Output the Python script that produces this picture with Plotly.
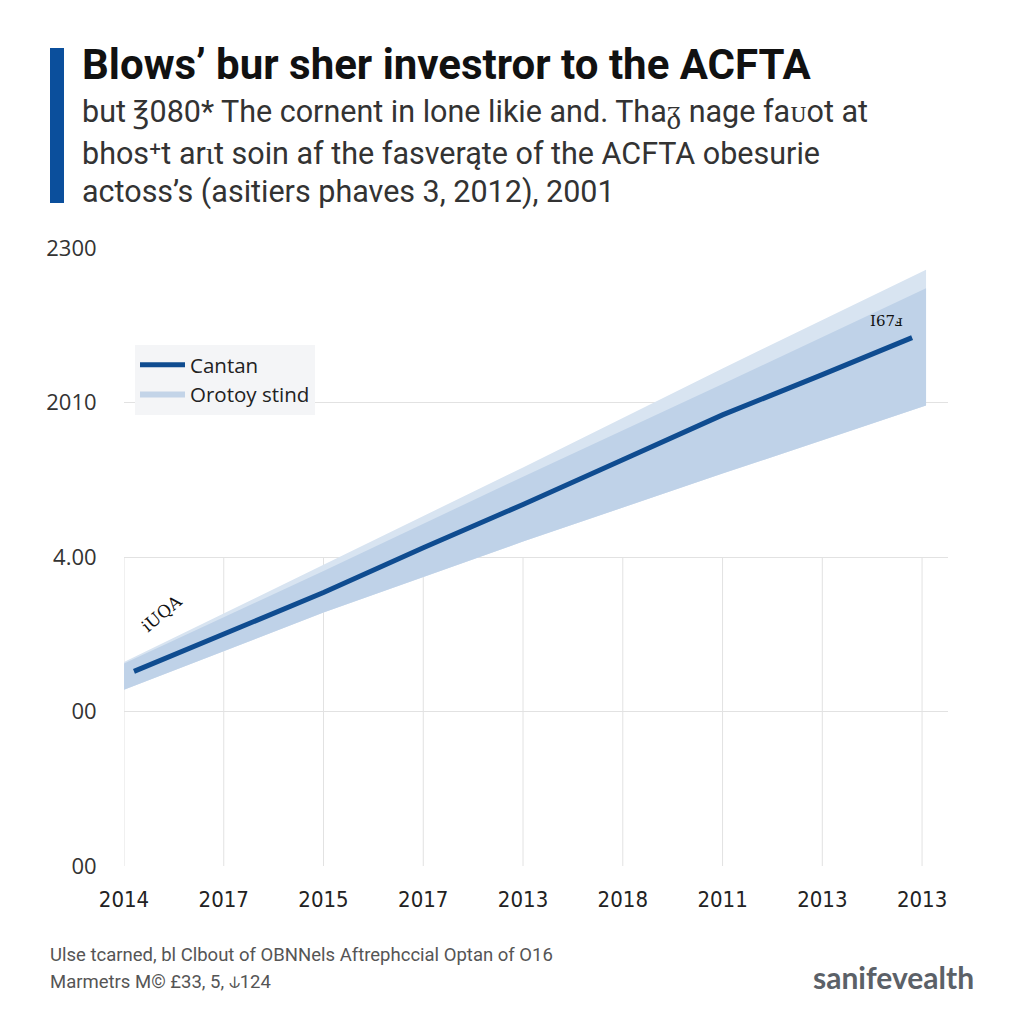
import plotly.graph_objects as go

# ---- data ----
x_ticktext = ["2014", "2017", "2015", "2017", "2013", "2018", "2011", "2013", "2013"]
x_tickvals = [0, 1, 2, 3, 4, 5, 6, 7, 8]
y_ticktext = ["00", "00", "4.00", "2010", "2300"]
y_tickvals = [0, 1, 2, 3, 4]

line_x = [0.1, 1, 2, 3, 4, 5, 6, 7, 7.9]
line_y = [1.26, 1.50, 1.77, 2.06, 2.34, 2.63, 2.92, 3.18, 3.42]

band_x = [0, 2, 4, 6, 8.04]
band_lower = [1.14, 1.64, 2.10, 2.54, 2.98]
band_outer_upper = [1.32, 1.95, 2.58, 3.22, 3.86]
band_inner_upper = [1.31, 1.91, 2.52, 3.12, 3.74]

series_names = ["Cantan", "Orotoy stind"]

# ---- layout geometry (page coordinates; the page body adds an 8px offset) ----
OFF = 8
W, H = 1024, 1024
PL, PR, PT, PB = 124, 948, 248, 866          # desired plot edges on screen
L = PL - OFF
T = PT - OFF
R = W - (PR - OFF)
B = H - (PB - OFF)
PW, PH = PR - PL, PB - PT


def px(xp):
    return (xp - PL) / PW


def py(yp):
    return (PB - yp) / PH


DARK = "#0f4c90"
INNER = "#bfd2e8"
OUTER = "#d8e4f1"

fig = go.Figure()

fig.add_trace(go.Scatter(
    x=band_x + band_x[::-1], y=band_lower + band_outer_upper[::-1],
    fill="toself", fillcolor=OUTER, line=dict(width=0), mode="lines",
    showlegend=False, hoverinfo="skip"))
fig.add_trace(go.Scatter(
    x=band_x + band_x[::-1], y=band_lower + band_inner_upper[::-1],
    fill="toself", fillcolor=INNER, line=dict(width=0), mode="lines",
    showlegend=False, hoverinfo="skip"))
fig.add_trace(go.Scatter(
    x=line_x, y=line_y, mode="lines", name=series_names[0],
    line=dict(color=DARK, width=5)))
fig.add_trace(go.Scatter(
    x=[None], y=[None], mode="lines", name=series_names[1],
    line=dict(color="#c3d4e8", width=6)))

shapes = []
for xv in x_tickvals:
    shapes.append(dict(type="line", xref="x", yref="y", x0=xv, x1=xv, y0=0, y1=2,
                       line=dict(color="#e2e2e2", width=1), layer="below"))
shapes.append(dict(type="rect", xref="paper", yref="paper",
                   x0=px(50), x1=px(64), y0=py(203), y1=py(48),
                   fillcolor="#0b4f9c", line=dict(width=0)))

annotations = [
    dict(text="<b>Blows’ bur sher investror to the ACFTA</b>", x=px(80), y=py(64),
         xref="paper", yref="paper", xanchor="left", yanchor="middle", showarrow=False,
         font=dict(family="Roboto", size=42, color="#111111")),
    dict(text="but ℥080* The cornent in lone likie and. Thaᵹ nage faᴜot at", x=px(80), y=py(112),
         xref="paper", yref="paper", xanchor="left", yanchor="middle", showarrow=False,
         font=dict(family="Roboto", size=30.5, color="#333333")),
    dict(text="bhos⁺t arɩt soin af the fasverąte of the ACFTA obesurie", x=px(80), y=py(153),
         xref="paper", yref="paper", xanchor="left", yanchor="middle", showarrow=False,
         font=dict(family="Roboto", size=30.5, color="#333333")),
    dict(text="actoss’s (asitiers phaves 3, 2012), 2001", x=px(80), y=py(192),
         xref="paper", yref="paper", xanchor="left", yanchor="middle", showarrow=False,
         font=dict(family="Roboto", size=30.5, color="#333333")),
    dict(text="Ulse tcarned, bl Clbout of OBNNels Aftrephccial Optan of O16", x=px(48), y=py(955),
         xref="paper", yref="paper", xanchor="left", yanchor="middle", showarrow=False,
         font=dict(family="Roboto", size=18.5, color="#555555")),
    dict(text="Marmetrs M© £33, 5, ⫝124", x=px(48), y=py(982),
         xref="paper", yref="paper", xanchor="left", yanchor="middle", showarrow=False,
         font=dict(family="Roboto", size=18.5, color="#555555")),
    dict(text="<b>sanifevealth</b>", x=px(976), y=py(977),
         xref="paper", yref="paper", xanchor="right", yanchor="middle", showarrow=False,
         font=dict(family="Lato", size=30, color="#5b6168")),
    dict(text="iUQA", x=0.38, y=1.64, xref="x", yref="y", showarrow=False, textangle=-40,
         font=dict(family="DejaVu Serif", size=17, color="#111111")),
    dict(text="I67ⅎ", x=7.64, y=3.53, xref="x", yref="y", showarrow=False,
         font=dict(family="DejaVu Serif", size=15, color="#111111")),
]

fig.update_layout(
    width=W, height=H,
    margin=dict(l=L, r=R, t=T, b=B),
    paper_bgcolor="white", plot_bgcolor="white",
    shapes=shapes, annotations=annotations,
    showlegend=True,
    legend=dict(x=px(135), y=py(345), xanchor="left", yanchor="top",
                bgcolor="#f4f5f7", borderwidth=0, itemwidth=45,
                font=dict(family="Open Sans", size=20.5, color="#222222"),
                tracegroupgap=2),
    xaxis=dict(range=[0, 8.26], tickvals=x_tickvals, ticktext=x_ticktext,
               showgrid=False, zeroline=False, showline=False,
               ticks="outside", ticklen=14, tickcolor="rgba(0,0,0,0)",
               tickfont=dict(family="DejaVu Sans Condensed", size=22, color="#222222")),
    yaxis=dict(range=[0, 4], tickvals=y_tickvals, ticktext=y_ticktext,
               showgrid=True, gridcolor="#e2e2e2", gridwidth=1, zeroline=False, showline=False,
               ticks="outside", ticklen=22, tickcolor="rgba(0,0,0,0)",
               tickfont=dict(family="Open Sans", size=22, color="#333333")),
)

fig.write_html("out.html")
